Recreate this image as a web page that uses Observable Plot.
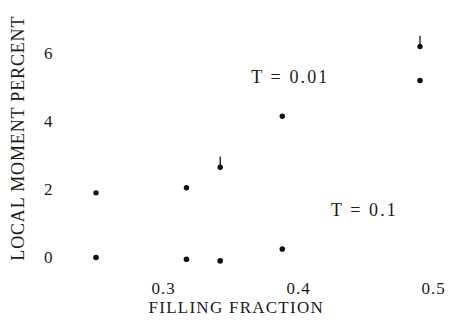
<!DOCTYPE html>
<html>
<head>
<meta charset="utf-8">
<script src="https://cdn.jsdelivr.net/npm/d3@7"></script>
<script src="https://cdn.jsdelivr.net/npm/@observablehq/plot@0.6"></script>
<style>
  html, body { margin: 0; padding: 0; background: #fff; }
  #chart svg { display: block; }
</style>
</head>
<body>
<div id="chart"></div>
<script>
// Filling fractions sampled
const filling = [0.25, 0.317, 0.342, 0.388, 0.49];
// Local moment (percent) at T = 0.01
const momentLowT = [1.9, 2.05, 2.65, 4.15, 6.2];
// Upper ends of the error bars at T = 0.01 (null where none drawn)
const momentLowTUpper = [null, null, 2.95, null, 6.5];
// Local moment (percent) at T = 0.1
const momentHighT = [0.0, -0.05, -0.1, 0.25, 5.2];

const xTicks = [0.3, 0.4, 0.5];
const yTicks = [0, 2, 4, 6];

const xTitle = "FILLING FRACTION";
const yTitle = "LOCAL MOMENT PERCENT";

// Curve labels placed in data coordinates
const curveLabels = [
  {text: "T = 0.01", x: 0.365, y: 5.3},
  {text: "T = 0.1", x: 0.424, y: 1.38}
];

const lowT = filling.map((f, i) => ({f, m: momentLowT[i], up: momentLowTUpper[i]}));
const highT = filling.map((f, i) => ({f, m: momentHighT[i]}));
const bars = lowT.filter(d => d.up != null);

const font = "'Liberation Serif', 'Times New Roman', serif";

const chart = Plot.plot({
  width: 459,
  height: 326,
  marginLeft: 55,
  marginRight: 12.5,
  marginTop: 12,
  marginBottom: 48.6,
  style: {fontFamily: font, fontSize: "17px", color: "#1a1a1a", background: "#fff"},
  x: {domain: [0.22, 0.51], ticks: xTicks, tickFormat: d => d.toFixed(1), tickSize: 0, tickPadding: 4, label: null},
  y: {domain: [-0.6, 7.2], ticks: yTicks, tickSize: 0, tickPadding: 2, label: null},
  marks: [
    Plot.ruleX(bars, {x: "f", y1: "m", y2: "up", stroke: "#111", strokeWidth: 1.3}),
    Plot.dot(lowT, {x: "f", y: "m", r: 2.7, fill: "#111", stroke: null}),
    Plot.dot(highT, {x: "f", y: "m", r: 2.8, fill: "#111", stroke: null}),
    Plot.text(curveLabels, {x: "x", y: "y", text: "text", textAnchor: "start", fontSize: 18, fill: "#1a1a1a"}),
    Plot.text([xTitle], {frameAnchor: "bottom", textAnchor: "middle", dx: -15, dy: 35, fontSize: 17, fill: "#1a1a1a"}),
    Plot.text([yTitle], {frameAnchor: "left", textAnchor: "middle", rotate: -90, dx: -37, dy: -7, fontSize: 18, fill: "#1a1a1a"})
  ]
});

// Widen the letter spacing of the typeset labels
const curveTexts = new Set(curveLabels.map(d => d.text));
d3.select(chart).selectAll("text").each(function() {
  const t = this.textContent;
  let ls = "1px";
  if (curveTexts.has(t)) ls = "2.1px";
  else if (t === xTitle) ls = "1.25px";
  else if (t === yTitle) ls = "0.85px";
  this.style.letterSpacing = ls;
});

document.getElementById("chart").appendChild(chart);
</script>
</body>
</html>
